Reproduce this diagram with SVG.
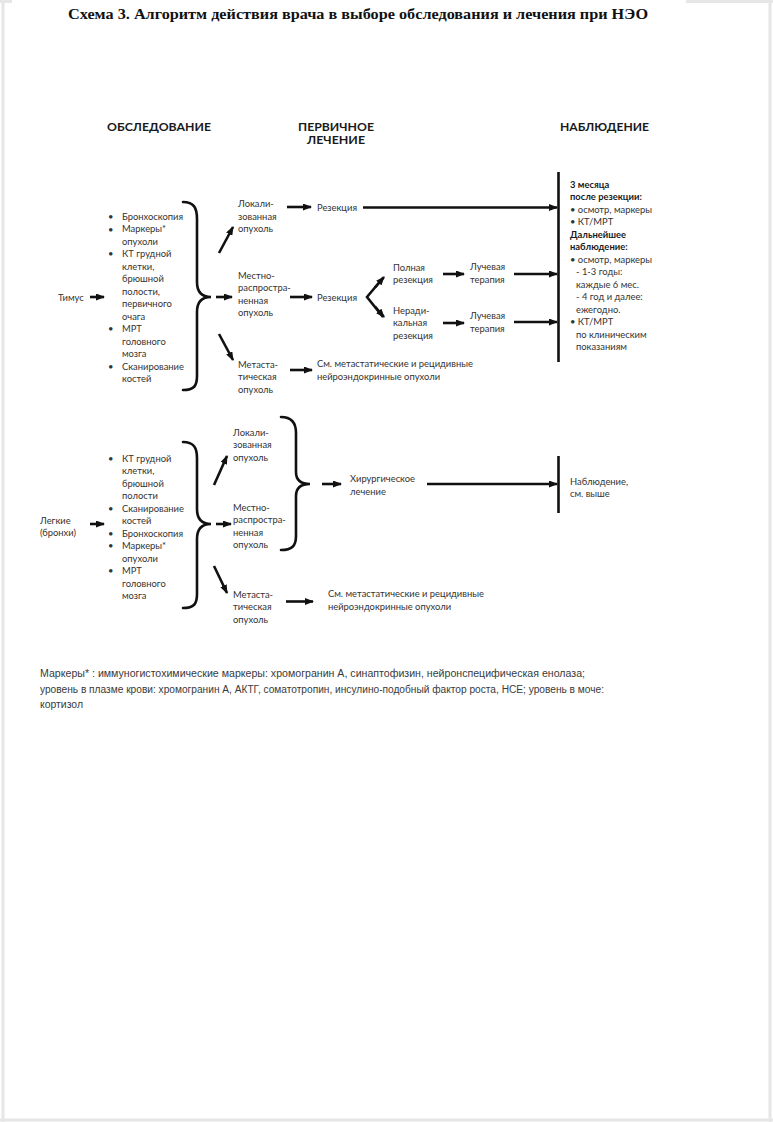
<svg xmlns="http://www.w3.org/2000/svg" width="773" height="1122" viewBox="0 0 773 1122">
<style>
  .t { font-family: "Lato", "Open Sans", sans-serif; font-size: 9.4px; fill: #333333; }
  .b { font-weight: bold; fill: #1a1a1a; }
  .h { font-family: "Lato", "Open Sans", sans-serif; font-size: 12px; font-weight: bold; fill: #1a1a1a; }
  .title { font-family: "Liberation Serif", "Times New Roman", serif; font-size: 15px; font-weight: bold; fill: #111; }
  .fn { font-family: "Liberation Sans", Arial, sans-serif; font-size: 10px; fill: #3a3a3a; }
  .ln { stroke: #111; stroke-width: 2.6; fill: none; }
  .br { stroke: #111; stroke-width: 2.6; fill: none; stroke-linecap: round; }
  .arr { stroke: #111; stroke-width: 2.6; fill: none; marker-end: url(#ah); }
  .frame { stroke: #e6e6e6; stroke-width: 3; fill: none; }
</style>
<defs>
  <marker id="ah" markerUnits="userSpaceOnUse" markerWidth="9" markerHeight="7" refX="8" refY="3.5" orient="auto">
    <path d="M0,0 L9,3.5 L0,7 z" fill="#111"/>
  </marker>
</defs>
<rect width="773" height="1122" fill="#ffffff"/>
<g id="frame">
  <line class="frame" x1="3" y1="0" x2="3" y2="1122"/>
  <line class="frame" x1="770" y1="0" x2="770" y2="1122"/>
  <line class="frame" x1="0" y1="1120" x2="773" y2="1120"/>
  <line class="frame" x1="0" y1="1.5" x2="12" y2="1.5"/>
  <line class="frame" x1="686" y1="1.5" x2="773" y2="1.5"/>
</g>

<text class="title" x="358" y="19" text-anchor="middle" textLength="580" lengthAdjust="spacingAndGlyphs">Схема 3. Алгоритм действия врача в выборе обследования и лечения при НЭО</text>

<g id="headers">
  <text class="h" x="107" y="131" textLength="104" lengthAdjust="spacingAndGlyphs">ОБСЛЕДОВАНИЕ</text>
  <text class="h" x="336" y="131" text-anchor="middle" textLength="76" lengthAdjust="spacingAndGlyphs">ПЕРВИЧНОЕ</text>
  <text class="h" x="336" y="144" text-anchor="middle" textLength="58" lengthAdjust="spacingAndGlyphs">ЛЕЧЕНИЕ</text>
  <text class="h" x="560" y="131" textLength="89" lengthAdjust="spacingAndGlyphs">НАБЛЮДЕНИЕ</text>
</g>

<!-- ===== Top section: Thymus ===== -->
<g id="thymus"><text class="t" x="58" y="300.5">Тимус</text></g>

<g id="thymus-exams">
  <text class="t">
    <tspan x="122" y="220">Бронхоскопия</tspan>
    <tspan x="122" dy="12.46">Маркеры*</tspan>
    <tspan x="122" dy="12.46">опухоли</tspan>
    <tspan x="122" dy="12.46">КТ грудной</tspan>
    <tspan x="122" dy="12.46">клетки,</tspan>
    <tspan x="122" dy="12.46">брюшной</tspan>
    <tspan x="122" dy="12.46">полости,</tspan>
    <tspan x="122" dy="12.46">первичного</tspan>
    <tspan x="122" dy="12.46">очага</tspan>
    <tspan x="122" dy="12.46">МРТ</tspan>
    <tspan x="122" dy="12.46">головного</tspan>
    <tspan x="122" dy="12.46">мозга</tspan>
    <tspan x="122" dy="12.46">Сканирование</tspan>
    <tspan x="122" dy="12.46">костей</tspan>
  </text>
  <text class="t">
    <tspan x="108" y="220">•</tspan>
    <tspan x="108" y="232.5">•</tspan>
    <tspan x="108" y="257.4">•</tspan>
    <tspan x="108" y="332.1">•</tspan>
    <tspan x="108" y="369.5">•</tspan>
  </text>
</g>

<g id="t-local"><text class="t"><tspan x="238" y="207">Локали-</tspan><tspan x="238" dy="12.5">зованная</tspan><tspan x="238" dy="12.5">опухоль</tspan></text></g>
<g id="t-locreg"><text class="t"><tspan x="238" y="278.5">Местно-</tspan><tspan x="238" dy="12.5">распростра-</tspan><tspan x="238" dy="12.5">ненная</tspan><tspan x="238" dy="12.5">опухоль</tspan></text></g>
<g id="t-meta"><text class="t"><tspan x="238" y="367.5">Метаста-</tspan><tspan x="238" dy="12.5">тическая</tspan><tspan x="238" dy="12.5">опухоль</tspan></text></g>

<g id="t-res1"><text class="t" x="317" y="210.5">Резекция</text></g>
<g id="t-res2"><text class="t" x="317" y="300.5">Резекция</text></g>
<g id="t-full"><text class="t"><tspan x="393" y="270.5">Полная</tspan><tspan x="393" dy="12.5">резекция</tspan></text></g>
<g id="t-nonrad"><text class="t"><tspan x="393" y="313.5">Неради-</tspan><tspan x="393" dy="12.5">кальная</tspan><tspan x="393" dy="12.5">резекция</tspan></text></g>
<g id="t-rad1"><text class="t"><tspan x="470" y="269.5">Лучевая</tspan><tspan x="470" dy="13">терапия</tspan></text></g>
<g id="t-rad2"><text class="t"><tspan x="470" y="318.5">Лучевая</tspan><tspan x="470" dy="13">терапия</tspan></text></g>
<g id="t-seemeta"><text class="t"><tspan x="317" y="366.5">См. метастатические и рецидивные</tspan><tspan x="317" dy="13.5">нейроэндокринные опухоли</tspan></text></g>

<g id="t-follow">
  <text class="t">
    <tspan class="b" x="570" y="187.5">3 месяца</tspan>
    <tspan class="b" x="570" dy="12.53">после резекции:</tspan>
    <tspan x="570" dy="12.53">• осмотр, маркеры</tspan>
    <tspan x="570" dy="12.53">• КТ/МРТ</tspan>
    <tspan class="b" x="570" dy="12.53">Дальнейшее</tspan>
    <tspan class="b" x="570" dy="12.53">наблюдение:</tspan>
    <tspan x="570" dy="12.53">• осмотр, маркеры</tspan>
    <tspan x="576" dy="12.53">- 1-3 годы:</tspan>
    <tspan x="576" dy="12.53">каждые 6 мес.</tspan>
    <tspan x="576" dy="12.53">- 4 год и далее:</tspan>
    <tspan x="576" dy="12.53">ежегодно.</tspan>
    <tspan x="570" dy="12.53">• КТ/МРТ</tspan>
    <tspan x="576" dy="12.53">по клиническим</tspan>
    <tspan x="576" dy="12.53">показаниям</tspan>
  </text>
</g>

<!-- ===== Bottom section: Lungs ===== -->
<g id="lungs"><text class="t"><tspan x="40" y="523.5">Легкие</tspan><tspan x="40" dy="12.5">(бронхи)</tspan></text></g>

<g id="lungs-exams">
  <text class="t">
    <tspan x="122" y="461.5">КТ грудной</tspan>
    <tspan x="122" dy="12.5">клетки,</tspan>
    <tspan x="122" dy="12.5">брюшной</tspan>
    <tspan x="122" dy="12.5">полости</tspan>
    <tspan x="122" dy="12.5">Сканирование</tspan>
    <tspan x="122" dy="12.5">костей</tspan>
    <tspan x="122" dy="12.5">Бронхоскопия</tspan>
    <tspan x="122" dy="12.5">Маркеры*</tspan>
    <tspan x="122" dy="12.5">опухоли</tspan>
    <tspan x="122" dy="12.5">МРТ</tspan>
    <tspan x="122" dy="12.5">головного</tspan>
    <tspan x="122" dy="12.5">мозга</tspan>
  </text>
  <text class="t">
    <tspan x="108" y="461.5">•</tspan>
    <tspan x="108" y="511.5">•</tspan>
    <tspan x="108" y="536.5">•</tspan>
    <tspan x="108" y="549">•</tspan>
    <tspan x="108" y="574">•</tspan>
  </text>
</g>

<g id="l-local"><text class="t"><tspan x="233" y="435.5">Локали-</tspan><tspan x="233" dy="12.5">зованная</tspan><tspan x="233" dy="12.5">опухоль</tspan></text></g>
<g id="l-locreg"><text class="t"><tspan x="233" y="510.5">Местно-</tspan><tspan x="233" dy="12.5">распростра-</tspan><tspan x="233" dy="12.5">ненная</tspan><tspan x="233" dy="12.5">опухоль</tspan></text></g>
<g id="l-meta"><text class="t"><tspan x="233" y="597.5">Метаста-</tspan><tspan x="233" dy="12.5">тическая</tspan><tspan x="233" dy="12.5">опухоль</tspan></text></g>
<g id="l-surg"><text class="t"><tspan x="350" y="482">Хирургическое</tspan><tspan x="350" dy="13">лечение</tspan></text></g>
<g id="l-follow"><text class="t"><tspan x="570" y="484.5">Наблюдение,</tspan><tspan x="570" dy="12.5">см. выше</tspan></text></g>
<g id="l-seemeta"><text class="t"><tspan x="328" y="596.5">См. метастатические и рецидивные</tspan><tspan x="328" dy="13.5">нейроэндокринные опухоли</tspan></text></g>

<!-- ===== Connectors ===== -->
<g id="connectors">
  <!-- top braces -->
  <path class="br" d="M183,202 C194,202 197,208 197,219 L197,282 C197,292 202,297 211,297 C202,297 197,302 197,312 L197,376 C197,386 194,390 183,390"/>
  <line class="arr" x1="90" y1="297" x2="104" y2="297"/>
  <line class="arr" x1="216" y1="297" x2="232" y2="297"/>
  <line class="arr" x1="219" y1="253" x2="233" y2="227"/>
  <line class="arr" x1="219" y1="334" x2="233" y2="360"/>
  <line class="arr" x1="287" y1="207" x2="311" y2="207"/>
  <line class="arr" x1="290" y1="297" x2="312" y2="297"/>
  <line class="arr" x1="290" y1="370" x2="312" y2="370"/>
  <line class="arr" x1="363" y1="207.5" x2="557" y2="207.5"/>
  <path class="ln" d="M383,278 L367,297 L383,317" stroke-linejoin="miter"/>
  <line class="arr" x1="375" y1="287.5" x2="384" y2="277"/>
  <line class="arr" x1="375" y1="306.5" x2="384" y2="317"/>
  <line class="arr" x1="443" y1="274" x2="464" y2="274"/>
  <line class="arr" x1="443" y1="323" x2="464" y2="323"/>
  <line class="arr" x1="514" y1="274" x2="557" y2="274"/>
  <line class="arr" x1="514" y1="322" x2="557" y2="322"/>
  <line class="ln" x1="558.5" y1="172" x2="558.5" y2="362"/>

  <!-- bottom -->
  <line class="arr" x1="90" y1="524" x2="104" y2="524"/>
  <path class="br" d="M183,442 C194,442 197,448 197,458 L197,509 C197,519 202,524 211,524 C202,524 197,529 197,539 L197,594 C197,604 194,608 183,608"/>
  <line class="arr" x1="216" y1="524" x2="231" y2="524"/>
  <line class="arr" x1="214" y1="485" x2="227" y2="456"/>
  <line class="arr" x1="214" y1="566" x2="227" y2="593"/>
  <path class="br" d="M281,417 C292,417 296,423 296,433 L296,472 C296,480 301,484 310,484 C301,484 296,488 296,496 L296,536 C296,546 292,550 281,550"/>
  <line class="arr" x1="322" y1="484" x2="341" y2="484"/>
  <line class="arr" x1="427" y1="484" x2="557" y2="484"/>
  <line class="ln" x1="558.5" y1="456" x2="558.5" y2="513"/>
  <line class="arr" x1="286" y1="601.5" x2="313" y2="601.5"/>
</g>

<g id="footnote">
  <text class="fn" x="40" y="677" textLength="545" lengthAdjust="spacingAndGlyphs">Маркеры* : иммуногистохимические маркеры: хромогранин А, синаптофизин, нейронспецифическая енолаза;</text>
  <text class="fn" x="40" y="693" textLength="564" lengthAdjust="spacingAndGlyphs">уровень в плазме крови: хромогранин А, АКТГ, соматотропин, инсулино-подобный фактор роста, НСЕ; уровень в моче:</text>
  <text class="fn" x="40" y="708" textLength="43" lengthAdjust="spacingAndGlyphs">кортизол</text>
</g>
</svg>
